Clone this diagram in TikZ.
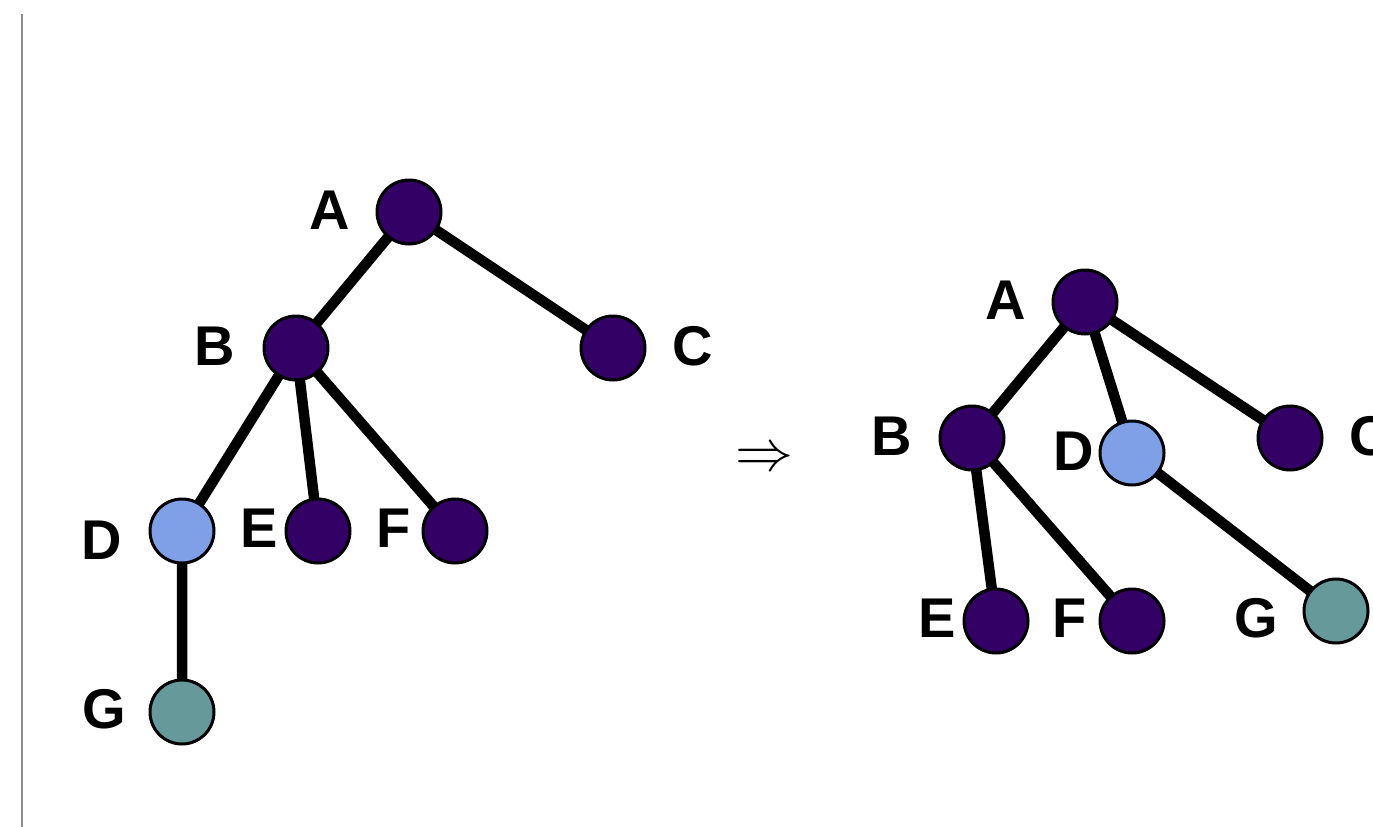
\documentclass[tikz,border=0pt]{standalone}
\usepackage{graphicx}
\usepackage{fontspec}
\setmainfont{Liberation Sans}
\definecolor{dpurple}{HTML}{330066}
\definecolor{lblue}{HTML}{7F9FE6}
\definecolor{teal2}{HTML}{669999}
\definecolor{lgray}{HTML}{8C8C8C}
\begin{document}
\begin{tikzpicture}[x=1pt,y=-1pt,
  vert/.style={circle,draw=black,line width=3pt,minimum size=64pt,inner sep=0pt},
  pv/.style={vert,fill=dpurple},
  bv/.style={vert,fill=lblue},
  tv/.style={vert,fill=teal2},
  lab/.style={font=\fontsize{56}{56}\selectfont\bfseries,inner sep=0pt},
  edge/.style={line width=10.5pt}]
\useasboundingbox (0,0) rectangle (1373,827);
\clip (0,0) rectangle (1373,827);
\coordinate (lt) at (22,14);
\coordinate (lb) at (22,827);
\draw[lgray,line width=2pt] (lt) -- (lb);
% left tree: coordinates
\coordinate (A) at (409,212);
\coordinate (B) at (296,348);
\coordinate (C) at (613,348);
\coordinate (D) at (182,531);
\coordinate (E) at (318,531);
\coordinate (F) at (455,531);
\coordinate (G) at (182,712);
% right tree: coordinates
\coordinate (A2) at (1085,302);
\coordinate (B2) at (972,438);
\coordinate (D2) at (1132,453);
\coordinate (C2) at (1290,438);
\coordinate (E2) at (996,621);
\coordinate (F2) at (1132,621);
\coordinate (G2) at (1336,611);
% edges
\draw[edge] (A) -- (B) (A) -- (C) (B) -- (D) (B) -- (E) (B) -- (F) (D) -- (G);
\draw[edge] (A2) -- (B2) (A2) -- (D2) (A2) -- (C2) (B2) -- (E2) (B2) -- (F2) (D2) -- (G2);
% vertices
\node[pv] (nA) at (A) {};
\node[pv] (nB) at (B) {};
\node[pv] (nC) at (C) {};
\node[bv] (nD) at (D) {};
\node[pv] (nE) at (E) {};
\node[pv] (nF) at (F) {};
\node[tv] (nG) at (G) {};
\node[pv] (nA2) at (A2) {};
\node[pv] (nB2) at (B2) {};
\node[bv] (nD2) at (D2) {};
\node[pv] (nC2) at (C2) {};
\node[pv] (nE2) at (E2) {};
\node[pv] (nF2) at (F2) {};
\node[tv] (nG2) at (G2) {};
% labels
\node[lab] (lA) at (330,210) {A};
\node[lab] (lB) at (215,346) {B};
\node[lab] (lC) at (693,346) {C};
\node[lab] (lD) at (102,540) {D};
\node[lab] (lE) at (259,528) {E};
\node[lab] (lF) at (394,528) {F};
\node[lab] (lG) at (104,709) {G};
\node[lab] (lA2) at (1006,300) {A};
\node[lab] (lB2) at (892,436) {B};
\node[lab] (lD2) at (1074,451) {D};
\node[lab] (lC2) at (1370,436) {C};
\node[lab] (lE2) at (937,618) {E};
\node[lab] (lF2) at (1070,618) {F};
\node[lab] (lG2) at (1256,618) {G};
% arrow
\node[inner sep=0pt] (arr) at (764,460) {\scalebox{5.8}{$\Rightarrow$}};
\end{tikzpicture}
\end{document}
